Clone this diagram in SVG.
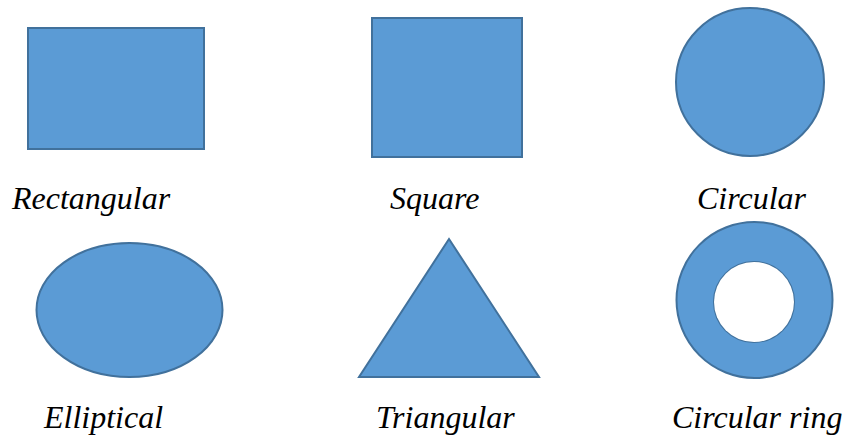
<svg xmlns="http://www.w3.org/2000/svg" width="845" height="436" viewBox="0 0 845 436">
<style>
.s{fill:#5B9BD5;stroke:#41719C;stroke-width:2}
.t{font-family:"Liberation Serif","Times New Roman",serif;font-style:italic;font-size:32px;fill:#000}
</style>
<rect width="845" height="436" fill="#fff"/>
<g id="rectangular">
<rect class="s" x="28" y="28" width="176" height="121"/>
<text class="t" x="12" y="209">Rectangular</text>
</g>
<g id="square">
<rect class="s" x="372" y="18" width="150" height="139"/>
<text class="t" x="390" y="209">Square</text>
</g>
<g id="circular">
<circle class="s" cx="750" cy="82" r="74"/>
<text class="t" x="697" y="209">Circular</text>
</g>
<g id="elliptical">
<ellipse class="s" cx="129.5" cy="310" rx="93" ry="67"/>
<text class="t" x="44" y="428">Elliptical</text>
</g>
<g id="triangular">
<polygon class="s" points="449,239 539,377 359,377"/>
<text class="t" x="376" y="428">Triangular</text>
</g>
<g id="circular-ring">
<path class="s" fill-rule="evenodd" d="M676.5,300a78,78 0 1,0 156,0a78,78 0 1,0 -156,0ZM714,302a40,40 0 1,0 80,0a40,40 0 1,0 -80,0Z"/>
<circle cx="754" cy="302" r="40" fill="#fff"/>
<text class="t" x="672" y="428">Circular ring</text>
</g>
<g id="connectors"/>
</svg>
